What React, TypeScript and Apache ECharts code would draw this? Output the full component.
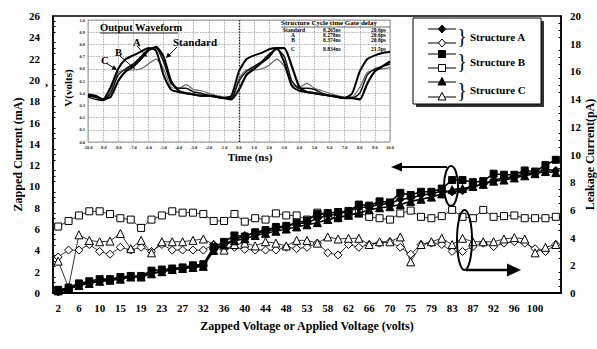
import React, { useEffect, useRef } from "react";
import * as echarts from "echarts";

// Zapped / applied voltage (volts) for each measurement step
const voltages = [2, 4, 6, 8, 10, 13, 15, 17, 19, 21, 23, 25, 27, 29, 32, 34, 36, 38, 40, 42, 44, 46, 48, 50, 53, 55, 58, 60, 62, 64, 66, 68, 70, 73, 75, 77, 79, 81, 83, 85, 87, 89, 92, 94, 96, 98, 100, 102, 104];

// Zapped current (mA), filled markers, left axis
const zappedA = [0.1, 0.3, 0.8, 1.0, 1.1, 1.2, 1.4, 1.5, 1.5, 1.9, 2.0, 2.2, 2.3, 2.5, 2.6, 4.1, 4.6, 5.0, 5.4, 5.6, 5.8, 6.0, 6.3, 6.5, 6.6, 7.0, 7.3, 7.4, 7.7, 8.0, 8.1, 8.3, 8.4, 8.8, 8.9, 9.2, 9.3, 9.6, 9.5, 9.6, 10.0, 10.2, 10.6, 10.8, 10.9, 11.2, 11.3, 11.6, 11.5];
const zappedB = [0.3, 0.5, 0.9, 1.1, 1.3, 1.3, 1.5, 1.6, 1.6, 2.1, 2.2, 2.3, 2.4, 2.6, 2.7, 4.3, 4.8, 5.4, 5.3, 5.7, 5.9, 6.2, 6.3, 6.6, 6.8, 7.4, 7.5, 7.6, 7.7, 8.3, 8.2, 8.6, 8.5, 9.4, 9.2, 9.5, 9.5, 9.8, 10.6, 10.6, 10.4, 10.5, 11.2, 11.1, 11.1, 11.5, 11.4, 12.0, 12.5];
const zappedC = [0.2, 0.4, 0.7, 0.9, 1.1, 1.2, 1.3, 1.5, 1.5, 1.8, 2.0, 2.2, 2.3, 2.4, 2.5, 4.0, 4.5, 4.9, 5.1, 5.4, 5.6, 5.8, 6.0, 6.2, 6.4, 6.6, 6.9, 7.1, 7.3, 7.5, 7.8, 8.0, 8.1, 8.3, 8.6, 8.8, 9.0, 9.3, 9.7, 9.8, 10.0, 10.2, 10.5, 10.6, 10.8, 11.0, 11.2, 11.4, 11.3];

// Leakage current (pA), open markers, right axis
const leakA = [2.6, 3.1, 3.1, 3.5, 3.0, 2.8, 3.3, 3.1, 3.3, 3.0, 3.5, 3.1, 3.1, 3.1, 3.1, 3.5, 3.15, 3.3, 3.15, 3.1, 3.1, 3.1, 3.3, 3.2, 3.3, 3.6, 2.9, 2.75, 3.5, 3.3, 3.5, 3.6, 3.7, 3.3, 2.8, 3.5, 3.6, 3.5, 3.0, 3.0, 3.35, 3.6, 3.35, 3.6, 3.7, 3.6, 3.2, 3.0, 3.5];
const leakB = [4.8, 5.2, 5.6, 5.9, 5.9, 5.7, 5.4, 5.3, 4.7, 5.3, 5.6, 5.9, 5.8, 5.8, 5.7, 5.2, 5.2, 5.7, 5.15, 5.4, 5.3, 5.75, 5.6, 5.6, 5.3, 5.8, 5.55, 5.4, 5.6, 5.8, 5.5, 5.4, 5.3, 5.75, 5.95, 5.5, 5.4, 5.55, 6.0, 5.5, 5.4, 6.0, 5.5, 5.55, 5.6, 5.4, 5.4, 5.4, 5.5];
const leakC = [2.3, 0.4, 4.2, 3.8, 3.7, 3.75, 4.3, 3.2, 3.8, 2.9, 3.7, 3.7, 3.7, 3.8, 3.9, 3.5, 3.1, 3.5, 3.6, 3.4, 3.7, 3.6, 3.4, 3.8, 3.8, 3.6, 4.05, 3.9, 3.95, 3.95, 3.5, 3.7, 3.7, 4.05, 2.25, 3.5, 3.7, 3.95, 3.5, 3.95, 3.7, 3.7, 3.7, 3.9, 4.0, 3.9, 2.9, 3.3, 3.5];

// Output waveform inset: time (ns) and voltage (V) per structure
const waveTime = [-10, -9.5, -9, -8.5, -8, -7.5, -7, -6.5, -6, -5.5, -5, -4.5, -4, -3.5, -3, -2.5, -2, -1.5, -1, -0.5, 0, 0.5, 1, 1.5, 2, 2.5, 3, 3.5, 4, 4.5, 5, 5.5, 6, 6.5, 7, 7.5, 8, 8.5, 9, 9.5, 10];
const waveStandard = [0.38, 0.37, 0.35, 0.37, 0.50, 0.58, 0.62, 0.68, 0.75, 0.78, 0.70, 0.50, 0.42, 0.40, 0.39, 0.38, 0.38, 0.37, 0.36, 0.35, 0.43, 0.55, 0.60, 0.65, 0.70, 0.77, 0.77, 0.62, 0.45, 0.41, 0.40, 0.39, 0.38, 0.37, 0.36, 0.36, 0.35, 0.48, 0.58, 0.62, 0.66];
const waveA = [0.37, 0.35, 0.34, 0.40, 0.55, 0.60, 0.64, 0.70, 0.76, 0.77, 0.66, 0.48, 0.44, 0.44, 0.41, 0.40, 0.38, 0.37, 0.36, 0.36, 0.50, 0.58, 0.62, 0.66, 0.72, 0.76, 0.70, 0.50, 0.44, 0.44, 0.43, 0.40, 0.38, 0.37, 0.36, 0.36, 0.40, 0.55, 0.60, 0.62, 0.64];
const waveB = [0.38, 0.37, 0.34, 0.42, 0.57, 0.59, 0.59, 0.60, 0.64, 0.68, 0.60, 0.45, 0.44, 0.47, 0.43, 0.42, 0.40, 0.38, 0.37, 0.36, 0.52, 0.59, 0.59, 0.60, 0.63, 0.68, 0.62, 0.47, 0.45, 0.48, 0.44, 0.42, 0.40, 0.38, 0.37, 0.37, 0.45, 0.57, 0.59, 0.60, 0.61];
const waveC = [0.39, 0.38, 0.35, 0.45, 0.60, 0.68, 0.71, 0.74, 0.77, 0.75, 0.55, 0.43, 0.41, 0.40, 0.39, 0.38, 0.38, 0.37, 0.36, 0.38, 0.58, 0.68, 0.71, 0.73, 0.76, 0.77, 0.65, 0.46, 0.42, 0.41, 0.40, 0.39, 0.38, 0.37, 0.36, 0.40, 0.58, 0.68, 0.71, 0.73, 0.74];

// Cycle time / gate delay table
const tableHeader = "Structure Cycle time Gate delay";
const tableStructures = ["Standard", "A", "B", "C"];
const tableCycle = ["8.265ns", "8.278ns", "8.374ns", "8.834ns"];
const tableDelay = ["20.6ps", "20.6ps", "20.8ps", "21.5ps"];

const legendLabels = ["Structure A", "Structure B", "Structure C"];

const FONT = "'Liberation Serif', 'Times New Roman', serif";
const Z = 100;

function txt(text: string, x: number, y: number, size: number, opts: any = {}) {
  return {
    type: "text",
    z: Z,
    x,
    y,
    rotation: opts.rotation || 0,
    style: {
      text,
      fontFamily: FONT,
      fontSize: size,
      fontWeight: opts.weight || "bold",
      fill: opts.fill || "#000",
      align: opts.align || "left",
      verticalAlign: opts.valign || "middle",
    },
  };
}

function seg(x1: number, y1: number, x2: number, y2: number, w = 1, color = "#000") {
  return { type: "line", z: Z, shape: { x1, y1, x2, y2 }, style: { stroke: color, lineWidth: w } };
}

function arrow(x1: number, y1: number, x2: number, y2: number, len: number, half: number, w: number) {
  const a = Math.atan2(y2 - y1, x2 - x1);
  const bx = x2 - Math.cos(a) * len;
  const by = y2 - Math.sin(a) * len;
  const px = -Math.sin(a) * half;
  const py = Math.cos(a) * half;
  return [
    seg(x1, y1, x2 - Math.cos(a) * len * 0.7, y2 - Math.sin(a) * len * 0.7, w),
    {
      type: "polygon",
      z: Z,
      shape: { points: [[x2, y2], [bx + px, by + py], [bx - px, by - py]] },
      style: { fill: "#000" },
    },
  ];
}

function marker(kind: string, cx: number, cy: number, filled: boolean) {
  const style = { fill: filled ? "#000" : "#fff", stroke: "#000", lineWidth: 1 };
  if (kind === "rect") {
    return { type: "rect", z: Z + 1, shape: { x: cx - 3.5, y: cy - 3.5, width: 7, height: 7 }, style };
  }
  if (kind === "diamond") {
    return { type: "polygon", z: Z + 1, shape: { points: [[cx, cy - 4], [cx + 3.5, cy], [cx, cy + 4], [cx - 3.5, cy]] }, style };
  }
  return { type: "polygon", z: Z + 1, shape: { points: [[cx, cy - 4.5], [cx + 4, cy + 3], [cx - 4, cy + 3]] }, style };
}

function buildGraphic() {
  const g: any[] = [];

  // inset texts
  g.push(txt("Output Waveform", 100, 27, 10.5));
  g.push(seg(100, 33, 178, 33, 0.8));
  g.push(txt("A", 133, 42, 10.5));
  g.push(txt("B", 115, 52, 10.5));
  g.push(txt("C", 101, 60, 10.5));
  g.push(txt("Standard", 173, 42, 11));
  g.push(...arrow(137, 46, 147, 57, 5, 2.5, 1));
  g.push(...arrow(120, 56, 135, 69, 5, 2.5, 1));
  g.push(...arrow(106, 63, 117, 70, 5, 2.5, 1));
  g.push(...arrow(177, 47, 166, 58, 5, 2.5, 1));
  g.push(txt("V(volts)", 68, 88, 11, { rotation: Math.PI / 2, align: "center" }));
  g.push(txt("Time (ns)", 250, 157, 11, { align: "center" }));

  // cycle time table
  g.push(txt(tableHeader, 281, 23, 7));
  g.push(seg(281, 27, 390, 27, 0.6));
  const rowY = [30, 35, 40, 49];
  tableStructures.forEach((s, i) => {
    g.push(txt(s, i === 0 ? 283 : 293, rowY[i], 5.5, { align: i === 0 ? "left" : "center" }));
    g.push(txt(tableCycle[i], 323, rowY[i], 5.5));
    g.push(txt(tableDelay[i], 371, rowY[i], 5.5));
  });

  // legend box
  g.push({ type: "rect", z: Z - 1, shape: { x: 416, y: 21, width: 128, height: 86 }, style: { fill: "#333" } });
  g.push({ type: "rect", z: Z, shape: { x: 413, y: 18, width: 128, height: 86 }, style: { fill: "#fff", stroke: "#000", lineWidth: 1 } });
  const kinds = ["diamond", "rect", "triangle"];
  const pairs = [[29, 43], [54, 68], [82, 97]];
  pairs.forEach((p, i) => {
    p.forEach((y, j) => {
      g.push(seg(428, y, 456, y, 1));
      g.push(marker(kinds[i], 442, y, j === 0));
    });
    const mid = (p[0] + p[1]) / 2;
    g.push(txt("}", 462, mid, 20, { weight: "normal", align: "center" }));
    g.push(txt(legendLabels[i], 470, mid + 0.5, 11));
  });

  // annotation ellipses and arrows
  g.push({ type: "ellipse", z: Z, shape: { cx: 451, cy: 186, rx: 7, ry: 20 }, style: { fill: "none", stroke: "#000", lineWidth: 2 } });
  g.push(...arrow(447, 167, 391, 167, 11, 4.5, 2));
  g.push({ type: "ellipse", z: Z, shape: { cx: 464.5, cy: 240, rx: 7.5, ry: 30 }, style: { fill: "none", stroke: "#000", lineWidth: 2 } });
  g.push(...arrow(466, 270, 521, 270, 14, 6.5, 2.5));

  g.push(txt(",", 45, 82, 12));
  return g;
}

export default function App() {
  const ref = useRef<HTMLDivElement>(null);

  useEffect(() => {
    if (!ref.current) return;
    const chart = echarts.init(ref.current, null, { renderer: "svg" });

    const labelStyle = { fontFamily: FONT, fontWeight: "bold", fontSize: 11, color: "#000" };
    const tinyLabel = { fontFamily: FONT, fontWeight: "bold", fontSize: 4.5, color: "#222", margin: 3 };
    const dotted = { type: "dotted", color: "#8a8a8a", width: 0.8 };

    const filled = (name: string, data: number[], symbol: string, size: number) => ({
      name,
      type: "line",
      xAxisIndex: 0,
      yAxisIndex: 0,
      data,
      symbol,
      symbolSize: size,
      showAllSymbol: true,
      lineStyle: { color: "#000", width: 1.6 },
      itemStyle: { color: "#000", borderColor: "#000" },
      z: 4,
    });
    const open = (name: string, data: number[], symbol: string, size: number) => ({
      name,
      type: "line",
      xAxisIndex: 0,
      yAxisIndex: 1,
      data,
      symbol,
      symbolSize: size,
      showAllSymbol: true,
      lineStyle: { color: "#000", width: 0.8 },
      itemStyle: { color: "#fff", borderColor: "#000", borderWidth: 1 },
      z: 3,
    });
    const wave = (name: string, data: number[], color: string, width: number) => ({
      name,
      type: "line",
      xAxisIndex: 1,
      yAxisIndex: 2,
      data: waveTime.map((t, i) => [t, data[i]]),
      showSymbol: false,
      smooth: 0.2,
      lineStyle: { color, width },
      z: 3,
    });

    const standardWave: any = wave("Standard", waveStandard, "#000", 2.2);
    standardWave.markLine = {
      silent: true,
      symbol: ["none", "none"],
      label: { show: false },
      lineStyle: { type: "dotted", color: "#222", width: 1.4 },
      data: [{ xAxis: 0 }],
    };

    chart.setOption({
      animation: false,
      backgroundColor: "#fff",
      grid: [
        { left: 53, right: 36, top: 16, bottom: 56, outerBoundsMode: "none", containLabel: false, show: true, borderColor: "#000", borderWidth: 1.5, backgroundColor: "transparent" },
        { left: 88, top: 20, width: 302, height: 122, outerBoundsMode: "none", containLabel: false, show: true, borderColor: "#999", borderWidth: 1, backgroundColor: "#fff" },
      ],
      xAxis: [
        {
          type: "category",
          gridIndex: 0,
          data: voltages.map(String),
          boundaryGap: true,
          axisLine: { lineStyle: { color: "#000", width: 2 } },
          axisTick: { inside: true, length: 4, interval: 0, lineStyle: { color: "#000" } },
          axisLabel: { ...labelStyle, margin: 9, interval: (i: number) => i % 2 === 0 && i < voltages.length - 1 },
          splitLine: { show: false },
          name: "Zapped Voltage or Applied Voltage (volts)",
          nameLocation: "middle",
          nameGap: 27,
          nameMoveOverlap: false,
          nameTextStyle: { ...labelStyle, fontSize: 12 },
        },
        {
          type: "value",
          gridIndex: 1,
          min: -10,
          max: 10,
          interval: 1,
          axisLine: { show: false },
          axisTick: { show: false },
          axisLabel: { ...tinyLabel, formatter: (v: number) => v.toFixed(1) },
          splitLine: { show: true, lineStyle: dotted },
        },
      ],
      yAxis: [
        {
          type: "value",
          gridIndex: 0,
          min: 0,
          max: 26,
          interval: 2,
          axisLine: { show: true, lineStyle: { color: "#000", width: 1.5 } },
          axisTick: { inside: true, length: 4, lineStyle: { color: "#000" } },
          minorTick: { show: true, splitNumber: 4, length: 2.5, lineStyle: { color: "#000" } },
          axisLabel: { ...labelStyle, margin: 13 },
          splitLine: { show: false },
          name: "Zapped Current (mA)",
          nameLocation: "middle",
          nameRotate: 90,
          nameGap: 29,
          nameMoveOverlap: false,
          nameTextStyle: { ...labelStyle, fontSize: 12 },
        },
        {
          type: "value",
          gridIndex: 0,
          position: "right",
          min: 0,
          max: 20,
          interval: 2,
          axisLine: { show: true, lineStyle: { color: "#000", width: 1.5 } },
          axisTick: { inside: true, length: 4, lineStyle: { color: "#000" } },
          minorTick: { show: true, splitNumber: 4, length: 2.5, lineStyle: { color: "#000" } },
          axisLabel: { ...labelStyle, margin: 9 },
          splitLine: { show: false },
          name: "Leakage Current(pA)",
          nameLocation: "middle",
          nameRotate: 90,
          nameGap: 23,
          nameMoveOverlap: false,
          nameTextStyle: { ...labelStyle, fontSize: 12 },
        },
        {
          type: "value",
          gridIndex: 1,
          min: 0,
          max: 1,
          interval: 0.1,
          axisLine: { show: false },
          axisTick: { show: false },
          axisLabel: { ...tinyLabel, formatter: (v: number) => v.toFixed(1) },
          splitLine: { show: true, lineStyle: dotted },
        },
      ],
      series: [
        open("Structure A leakage", leakA, "diamond", 8),
        open("Structure B leakage", leakB, "rect", 7),
        open("Structure C leakage", leakC, "triangle", 8),
        filled("Structure A zapped", zappedA, "diamond", 8),
        filled("Structure C zapped", zappedC, "triangle", 8),
        filled("Structure B zapped", zappedB, "rect", 7),
        wave("B", waveB, "#666", 1.2),
        wave("A", waveA, "#111", 1.5),
        wave("C", waveC, "#000", 2),
        standardWave,
      ],
      graphic: buildGraphic(),
    });

    return () => chart.dispose();
  }, []);

  return <div ref={ref} style={{ position: "fixed", left: 0, top: 0, width: 597, height: 349 }} />;
}
